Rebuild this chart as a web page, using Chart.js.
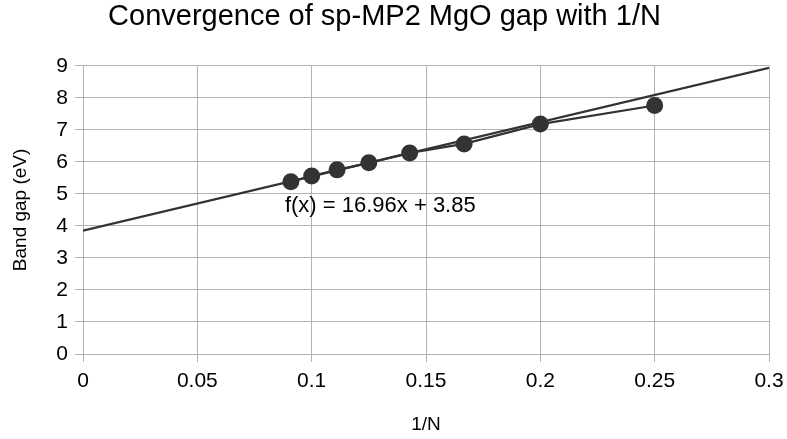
<!DOCTYPE html>
<html>
<head>
<meta charset="utf-8">
<script src="https://cdn.jsdelivr.net/npm/chart.js@4/dist/chart.umd.min.js"></script>
<style>
  html, body { margin: 0; padding: 0; background: #ffffff; }
  #wrap { width: 787px; height: 439px; position: relative; }
</style>
</head>
<body>
<div id="wrap"><canvas id="c" width="787" height="439"></canvas></div>
<script>
// sp-MP2 band gap of MgO against 1/N (N = 4 ... 11)
const invN = [1/11, 1/10, 1/9, 1/8, 1/7, 1/6, 1/5, 1/4];
const bandGap = [5.38, 5.56, 5.75, 5.97, 6.28, 6.56, 7.18, 7.76];

// Linear fit reported on the chart
const fitSlope = 16.96;
const fitIntercept = 3.85;
const fitRange = [0, 0.3];
const fitLabel = 'f(x) = 16.96x + 3.85';

const xTicks = [0, 0.05, 0.1, 0.15, 0.2, 0.25, 0.3];
const yTicks = [0, 1, 2, 3, 4, 5, 6, 7, 8, 9];

const FONT = '"Liberation Sans", Arial, sans-serif';
const INK = '#333333';

const points = invN.map((x, i) => ({ x: x, y: bandGap[i] }));
const fitLine = fitRange.map(x => ({ x: x, y: fitSlope * x + fitIntercept }));

// Writes the fit equation below the data
const equationLabel = {
  id: 'equationLabel',
  afterDatasetsDraw(chart) {
    const { ctx, scales } = chart;
    const px = scales.x.getPixelForValue(0.0883);
    const py = scales.y.getPixelForValue(4.63);
    ctx.save();
    ctx.font = '22px ' + FONT;
    ctx.fillStyle = '#000000';
    ctx.textAlign = 'left';
    ctx.textBaseline = 'middle';
    ctx.fillText(fitLabel, px, py);
    ctx.restore();
  }
};

new Chart(document.getElementById('c'), {
  type: 'scatter',
  data: {
    datasets: [
      {
        label: 'Band gap',
        data: points,
        showLine: true,
        borderColor: INK,
        borderWidth: 2.2,
        backgroundColor: INK,
        pointRadius: 8.5,
        pointHoverRadius: 8.5,
        pointBorderWidth: 0
      },
      {
        label: 'Linear fit',
        data: fitLine,
        showLine: true,
        borderColor: INK,
        borderWidth: 2.2,
        pointRadius: 0,
        pointHoverRadius: 0
      }
    ]
  },
  options: {
    responsive: false,
    animation: false,
    layout: { padding: { left: 0, right: 18, top: 0, bottom: 0 } },
    plugins: {
      legend: { display: false },
      tooltip: { enabled: false },
      title: {
        display: true,
        text: 'Convergence of sp-MP2 MgO gap with 1/N',
        color: '#000000',
        font: { family: FONT, size: 29, weight: 'normal' },
        padding: { top: 0, bottom: 31 }
      }
    },
    scales: {
      x: {
        type: 'linear',
        min: 0,
        max: 0.3,
        afterBuildTicks(scale) { scale.ticks = xTicks.map(v => ({ value: v })); },
        afterFit(scale) {
          scale.height = 85;
          scale.paddingLeft = 0;
          scale.paddingRight = 0;
        },
        ticks: {
          color: '#000000',
          font: { family: FONT, size: 21 },
          padding: 7,
          maxRotation: 0,
          callback: v => String(v)
        },
        grid: { color: '#b3b3b3', lineWidth: 1, tickLength: 8 },
        border: { color: '#b3b3b3' },
        title: {
          display: true,
          text: '1/N',
          color: '#000000',
          font: { family: FONT, size: 19 },
          padding: { top: 0, bottom: 3 }
        }
      },
      y: {
        type: 'linear',
        min: 0,
        max: 9,
        afterBuildTicks(scale) { scale.ticks = yTicks.map(v => ({ value: v })); },
        afterFit(scale) { scale.width = 83; },
        ticks: {
          color: '#000000',
          font: { family: FONT, size: 21 },
          padding: 7
        },
        grid: { color: '#b3b3b3', lineWidth: 1, tickLength: 8 },
        border: { color: '#b3b3b3' },
        title: {
          display: true,
          text: 'Band gap (eV)',
          color: '#000000',
          font: { family: FONT, size: 19 },
          padding: { top: 9, bottom: 0 }
        }
      }
    }
  },
  plugins: [equationLabel]
});
</script>
</body>
</html>
